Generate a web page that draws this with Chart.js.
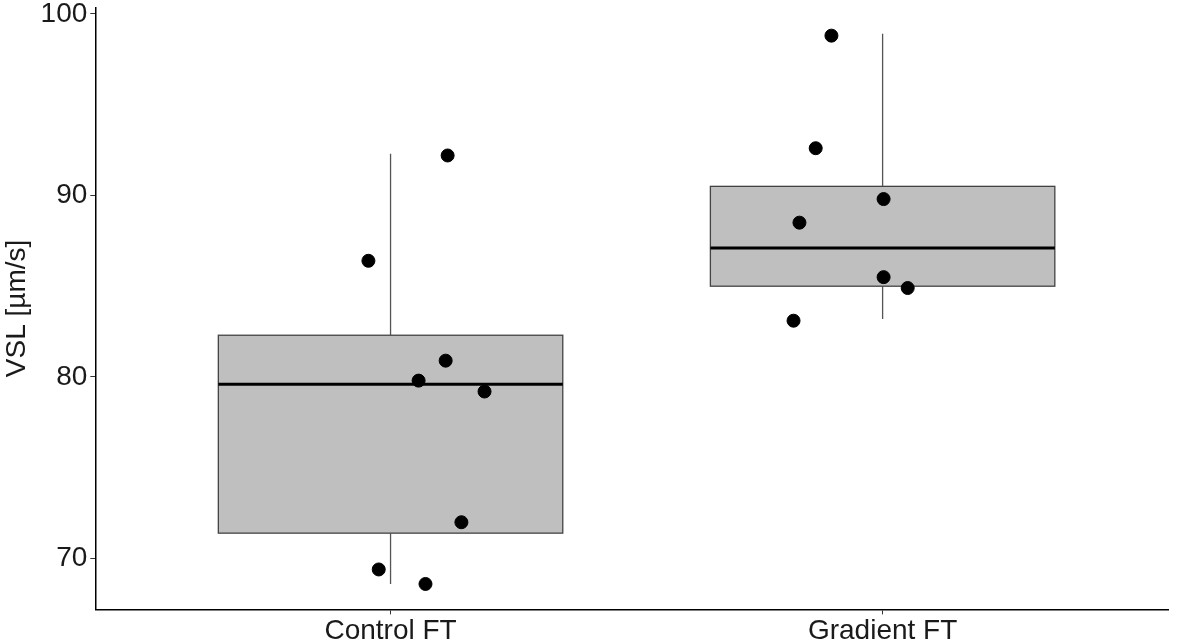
<!DOCTYPE html>
<html>
<head>
<meta charset="UTF-8">
<title>VSL box plot</title>
<script src="https://cdn.jsdelivr.net/npm/chart.js"></script>
<style>
  html, body { margin: 0; padding: 0; background: #fff; }
  .chart-container { width: 1180px; height: 644px; }
</style>
</head>
<body>
<div class="chart-container">
  <canvas id="chart"></canvas>
</div>
<script>
// categories and their positions on the x scale
const groups = ["Control FT", "Gradient FT"];
const groupPos = [1, 2];

// box summary per group
const q1 = [71.4, 85.0];
const median = [79.6, 87.1];
const q3 = [82.3, 90.5];
const whiskerLow = [68.6, 83.2];
const whiskerHigh = [92.3, 98.9];

// jittered observations
const controlX = [0.955, 1.116, 1.112, 1.057, 1.191, 1.144, 0.976, 1.071];
const controlY = [86.4, 92.2, 80.9, 79.8, 79.2, 72.0, 69.4, 68.6];
const gradientX = [1.896, 1.864, 2.002, 1.831, 2.002, 2.051, 1.819];
const gradientY = [98.8, 92.6, 89.8, 88.5, 85.5, 84.9, 83.1];

const yTicks = [70, 80, 90, 100];
const boxWidth = 0.7;

const points = [];
controlX.forEach(function(x, i) { points.push({x: x, y: controlY[i]}); });
gradientX.forEach(function(x, i) { points.push({x: x, y: gradientY[i]}); });

// draws whiskers and boxes under the points, using the chart scales
const boxPlugin = {
  id: 'boxes',
  beforeDatasetsDraw: function(chart) {
    const ctx = chart.ctx;
    const xs = chart.scales.x, ys = chart.scales.y;
    ctx.save();
    for (let i = 0; i < groups.length; i++) {
      const cx = xs.getPixelForValue(groupPos[i]);
      const l = xs.getPixelForValue(groupPos[i] - boxWidth / 2);
      const r = xs.getPixelForValue(groupPos[i] + boxWidth / 2);
      const t = ys.getPixelForValue(q3[i]);
      const b = ys.getPixelForValue(q1[i]);
      // whiskers
      ctx.strokeStyle = '#555';
      ctx.lineWidth = 1.3;
      ctx.beginPath();
      ctx.moveTo(cx, ys.getPixelForValue(whiskerHigh[i]));
      ctx.lineTo(cx, t);
      ctx.moveTo(cx, b);
      ctx.lineTo(cx, ys.getPixelForValue(whiskerLow[i]));
      ctx.stroke();
      // box
      ctx.fillStyle = '#bfbfbf';
      ctx.fillRect(l, t, r - l, b - t);
      ctx.strokeStyle = '#444';
      ctx.lineWidth = 1.3;
      ctx.strokeRect(l, t, r - l, b - t);
      // median
      const m = ys.getPixelForValue(median[i]);
      ctx.strokeStyle = '#000';
      ctx.lineWidth = 3;
      ctx.beginPath();
      ctx.moveTo(l, m);
      ctx.lineTo(r, m);
      ctx.stroke();
    }
    ctx.restore();
  }
};

const tickFont = {family: 'Liberation Sans, Arial, sans-serif', size: 28};

new Chart(document.getElementById('chart'), {
  type: 'scatter',
  data: {
    datasets: [{
      label: 'VSL',
      data: points,
      backgroundColor: '#000',
      borderColor: '#000',
      pointRadius: 6.5,
      pointHoverRadius: 6.5
    }]
  },
  options: {
    responsive: true,
    maintainAspectRatio: false,
    animation: false,
    layout: {padding: {top: 7, right: 12, left: 0, bottom: 0}},
    plugins: {legend: {display: false}, tooltip: {enabled: false}},
    scales: {
      x: {
        type: 'linear',
        min: 0.4,
        max: 2.58,
        afterBuildTicks: function(axis) {
          axis.ticks = groupPos.map(function(v) { return {value: v}; });
        },
        afterFit: function(axis) {
          axis.paddingLeft = 0;
          axis.paddingRight = 0;
          axis.height = axis.height - 4;
        },
        ticks: {
          color: '#1a1a1a',
          font: tickFont,
          padding: 0,
          callback: function(v) { return groups[groupPos.indexOf(v)]; }
        },
        grid: {display: true, drawOnChartArea: false, drawTicks: true, tickLength: 5, color: '#333'},
        border: {display: true, color: '#000', width: 1.5}
      },
      y: {
        min: 67.2,
        max: 100.35,
        afterBuildTicks: function(axis) {
          axis.ticks = yTicks.map(function(v) { return {value: v}; });
        },
        afterFit: function(axis) {
          axis.paddingTop = 0;
          axis.paddingBottom = 0;
        },
        ticks: {color: '#1a1a1a', font: tickFont, padding: 3},
        grid: {display: true, drawOnChartArea: false, drawTicks: true, tickLength: 5, color: '#333'},
        border: {display: true, color: '#000', width: 1.5},
        title: {display: true, text: 'VSL [µm/s]', color: '#1a1a1a', font: tickFont, padding: {top: 0, bottom: 4}}
      }
    }
  },
  plugins: [boxPlugin]
});
</script>
</body>
</html>
